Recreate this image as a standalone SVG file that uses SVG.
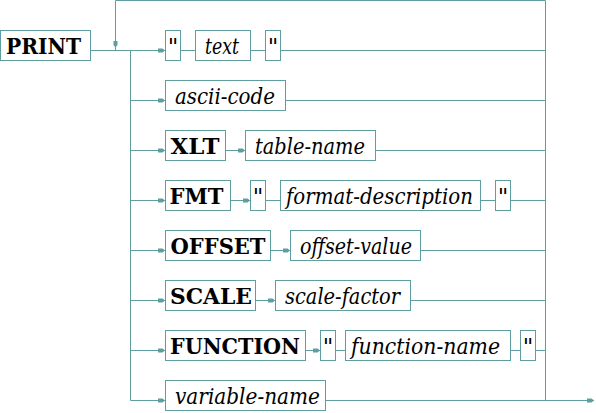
<svg xmlns="http://www.w3.org/2000/svg" width="596" height="413" viewBox="0 0 596 413">
<style>
.b{fill:#fff;stroke:#5f9ea0;stroke-width:1}
.l{fill:none;stroke:#5f9ea0;stroke-width:1}
.a{marker-end:url(#ah)}
.t{font-family:'DejaVu Serif',serif;font-size:23px;fill:#000}
.k{font-weight:bold}
.v{font-style:italic}
.q{text-anchor:middle}
</style>
<defs>
<marker id="ah" markerUnits="userSpaceOnUse" markerWidth="7" markerHeight="5" viewBox="0 0 7 5" refX="7" refY="2.5" orient="auto">
<path d="M0,0.5 L4.5,0.5 L7,2.5 L4.5,4.5 L0,4.5 z" fill="#5f9ea0"/>
</marker>
</defs>
<g id="connectors">
<path class="l" d="M90.5,50.5 H130.5 M130.5,50.5 V400.5"/>
<path class="l a" d="M545.5,400.5 V0.5 H115.5 V47.5"/>
<path class="l" d="M115.5,47 V50.5"/>
<path class="l a" d="M130.5,50.5 H165"/>
<path class="l a" d="M130.5,100.5 H165"/>
<path class="l a" d="M130.5,150.5 H165"/>
<path class="l a" d="M130.5,200.5 H165"/>
<path class="l a" d="M130.5,250.5 H165"/>
<path class="l a" d="M130.5,300.5 H165"/>
<path class="l a" d="M130.5,350.5 H165"/>
<path class="l a" d="M130.5,400.5 H165"/>
<path class="l" d="M180.5,50.5 H195.5 M250.5,50.5 H265.5 M280.5,50.5 H545.5"/>
<path class="l" d="M285.5,100.5 H545.5"/>
<path class="l a" d="M225.5,150.5 H245"/>
<path class="l" d="M375.5,150.5 H545.5"/>
<path class="l a" d="M230.5,200.5 H250"/>
<path class="l" d="M265.5,200.5 H280.5 M480.5,200.5 H495.5 M510.5,200.5 H545.5"/>
<path class="l a" d="M270.5,250.5 H290"/>
<path class="l" d="M420.5,250.5 H545.5"/>
<path class="l a" d="M255.5,300.5 H275"/>
<path class="l" d="M410.5,300.5 H545.5"/>
<path class="l a" d="M305.5,350.5 H320"/>
<path class="l" d="M335.5,350.5 H345.5 M510.5,350.5 H520.5 M535.5,350.5 H545.5"/>
<path class="l a" d="M325.5,400.5 H594"/>
</g>
<g id="print"><rect class="b" x="0.5" y="30.5" width="90" height="30"/><text class="t k" x="6" y="54" textLength="75" lengthAdjust="spacingAndGlyphs">PRINT</text></g>
<g id="q1"><rect class="b" x="165.5" y="30.5" width="15" height="30"/><text class="t q" x="173" y="54">"</text></g>
<g id="text"><rect class="b" x="195.5" y="30.5" width="55" height="30"/><text class="t v" x="205" y="54" textLength="34" lengthAdjust="spacingAndGlyphs">text</text></g>
<g id="q2"><rect class="b" x="265.5" y="30.5" width="15" height="30"/><text class="t q" x="273" y="54">"</text></g>
<g id="ascii"><rect class="b" x="165.5" y="80.5" width="120" height="30"/><text class="t v" x="175" y="104" textLength="100" lengthAdjust="spacingAndGlyphs">ascii-code</text></g>
<g id="xlt"><rect class="b" x="165.5" y="130.5" width="60" height="30"/><text class="t k" x="170.5" y="154" textLength="49" lengthAdjust="spacingAndGlyphs">XLT</text></g>
<g id="tablename"><rect class="b" x="245.5" y="130.5" width="130" height="30"/><text class="t v" x="255" y="154" textLength="110" lengthAdjust="spacingAndGlyphs">table-name</text></g>
<g id="fmt"><rect class="b" x="165.5" y="180.5" width="65" height="30"/><text class="t k" x="169.5" y="204" textLength="54" lengthAdjust="spacingAndGlyphs">FMT</text></g>
<g id="q3"><rect class="b" x="250.5" y="180.5" width="15" height="30"/><text class="t q" x="258" y="204">"</text></g>
<g id="formatdesc"><rect class="b" x="280.5" y="180.5" width="200" height="30"/><text class="t v" x="286" y="204" font-size="20" textLength="187" lengthAdjust="spacingAndGlyphs">format-description</text></g>
<g id="q4"><rect class="b" x="495.5" y="180.5" width="15" height="30"/><text class="t q" x="503" y="204">"</text></g>
<g id="offset"><rect class="b" x="165.5" y="230.5" width="105" height="30"/><text class="t k" x="170.5" y="254" textLength="95" lengthAdjust="spacingAndGlyphs">OFFSET</text></g>
<g id="offsetvalue"><rect class="b" x="290.5" y="230.5" width="130" height="30"/><text class="t v" x="300" y="254" textLength="112" lengthAdjust="spacingAndGlyphs">offset-value</text></g>
<g id="scale"><rect class="b" x="165.5" y="280.5" width="90" height="30"/><text class="t k" x="170" y="304" textLength="82" lengthAdjust="spacingAndGlyphs">SCALE</text></g>
<g id="scalefactor"><rect class="b" x="275.5" y="280.5" width="135" height="30"/><text class="t v" x="285" y="304" textLength="115" lengthAdjust="spacingAndGlyphs">scale-factor</text></g>
<g id="function"><rect class="b" x="165.5" y="330.5" width="140" height="30"/><text class="t k" x="170" y="354" textLength="130" lengthAdjust="spacingAndGlyphs">FUNCTION</text></g>
<g id="q5"><rect class="b" x="320.5" y="330.5" width="15" height="30"/><text class="t q" x="328" y="354">"</text></g>
<g id="functionname"><rect class="b" x="345.5" y="330.5" width="165" height="30"/><text class="t v" x="351" y="354" textLength="149" lengthAdjust="spacingAndGlyphs">function-name</text></g>
<g id="q6"><rect class="b" x="520.5" y="330.5" width="15" height="30"/><text class="t q" x="528" y="354">"</text></g>
<g id="variablename"><rect class="b" x="165.5" y="380.5" width="160" height="30"/><text class="t v" x="175" y="404" textLength="145" lengthAdjust="spacingAndGlyphs">variable-name</text></g>
</svg>
